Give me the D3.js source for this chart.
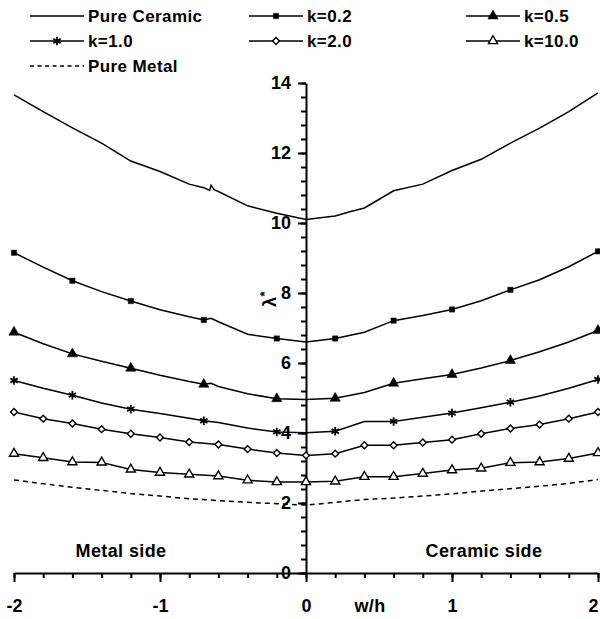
<!DOCTYPE html>
<meta charset="utf-8">
<style>
 body { margin: 0; background: #fff; }
 svg { font-family: "Liberation Sans", Arial, sans-serif; font-weight: bold; background: #fff; }
 .line { fill: none; stroke: #000; stroke-width: 1.5px; }
 .axis path, .axis line { stroke: #000; stroke-width: 2px; }
 .axis text { font-size: 18px; font-weight: bold; fill: #000; font-family: "Liberation Sans", Arial, sans-serif; }
 .label { font-size: 18px; letter-spacing: 0.4px; }
 .legend text { font-size: 17px; letter-spacing: 0.4px; }
</style>
<body>
<svg width="600" height="619"></svg>
</body>
<script src="https://d3js.org/d3.v7.min.js"></script>
<script>

// curves: [w/h, lambda*]
var pureCeramic = [[-2,13.66],[-1.8,13.18],[-1.6,12.72],[-1.4,12.28],[-1.2,11.77],[-1.0,11.47],[-0.8,11.11],
    [-0.7,11.01],[-0.66,10.93],[-0.65,11.08],[-0.63,10.95],[-0.6,10.9],[-0.4,10.49],[-0.2,10.28],[0,10.1],
    [0.2,10.2],[0.3,10.32],[0.4,10.43],[0.6,10.92],[0.8,11.11],[1.0,11.5],[1.2,11.82],[1.4,12.28],[1.6,12.71],
    [1.8,13.18],[2.0,13.72]];
var k02 = [[-2,9.15],[-1.8,8.74],[-1.6,8.35],[-1.4,8.04],[-1.2,7.77],[-1.0,7.52],[-0.8,7.32],[-0.7,7.23],
    [-0.65,7.28],[-0.6,7.18],[-0.4,6.82],[-0.2,6.70],[0,6.60],[0.2,6.70],[0.4,6.88],[0.6,7.21],[0.8,7.36],
    [1.0,7.53],[1.2,7.78],[1.4,8.09],[1.6,8.38],[1.8,8.75],[2.0,9.19]];
var k05 = [[-2,6.88],[-1.8,6.55],[-1.6,6.26],[-1.4,6.05],[-1.2,5.85],[-1.0,5.65],[-0.8,5.47],[-0.7,5.39],
    [-0.65,5.42],[-0.6,5.33],[-0.4,5.12],[-0.2,4.98],[0,4.96],[0.2,4.99],[0.4,5.16],[0.6,5.42],[0.8,5.55],
    [1.0,5.67],[1.2,5.86],[1.4,6.07],[1.6,6.32],[1.8,6.60],[2.0,6.93]];
var k10 = [[-2,5.50],[-1.8,5.28],[-1.6,5.08],[-1.4,4.86],[-1.2,4.68],[-1.0,4.56],[-0.8,4.42],[-0.7,4.35],
    [-0.6,4.30],[-0.4,4.14],[-0.2,4.03],[0,4.01],[0.2,4.05],[0.4,4.33],[0.6,4.33],[0.8,4.45],[1.0,4.57],
    [1.2,4.72],[1.4,4.88],[1.6,5.06],[1.8,5.28],[2.0,5.53]];
var k20 = [[-2,4.60],[-1.8,4.41],[-1.6,4.27],[-1.4,4.11],[-1.2,3.98],[-1.0,3.87],[-0.8,3.74],[-0.6,3.67],
    [-0.4,3.54],[-0.2,3.43],[0,3.36],[0.2,3.41],[0.4,3.65],[0.6,3.65],[0.8,3.73],[1.0,3.81],[1.2,3.98],
    [1.4,4.13],[1.6,4.24],[1.8,4.41],[2.0,4.60]];
var k100 = [[-2,3.41],[-1.8,3.29],[-1.6,3.17],[-1.4,3.16],[-1.2,2.96],[-1.0,2.87],[-0.8,2.82],[-0.6,2.77],
    [-0.4,2.65],[-0.2,2.60],[0,2.60],[0.2,2.62],[0.4,2.75],[0.6,2.75],[0.8,2.84],[1.0,2.94],[1.2,2.99],
    [1.4,3.15],[1.6,3.17],[1.8,3.27],[2.0,3.43]];
var pureMetal = [[-2,2.66],[-1.8,2.55],[-1.6,2.45],[-1.4,2.36],[-1.2,2.27],[-1.0,2.20],[-0.8,2.12],[-0.6,2.07],
    [-0.4,2.02],[-0.2,1.98],[0,1.94],[0.2,2.02],[0.4,2.10],[0.6,2.14],[0.8,2.20],[1.0,2.26],[1.2,2.34],
    [1.4,2.41],[1.6,2.48],[1.8,2.56],[2.0,2.67]];

// where the markers sit
var sparseMarks = [-2,-1.6,-1.2,-0.7,-0.2,0.2,0.6,1.0,1.4,2.0];
var denseMarks = [-2,-1.8,-1.6,-1.4,-1.2,-1.0,-0.8,-0.6,-0.4,-0.2,0,0.2,0.4,0.6,0.8,1.0,1.2,1.4,1.6,1.8,2.0];

var seriesNames = ["Pure Ceramic","k=0.2","k=0.5","k=1.0","k=2.0","k=10.0","Pure Metal"];
var xTicks = [-2,-1,0,1,2];
var yTicks = [0,2,4,6,8,10,12,14];

var sym = {
    square: {type: d3.symbolSquare, size: 28, fill: "#000", rot: 0},
    tri: {type: d3.symbolTriangle, size: 46, fill: "#000", rot: 0},
    star: {type: d3.symbolAsterisk, size: 50, fill: "none", rot: 0},
    diamond: {type: d3.symbolSquare, size: 24, fill: "#fff", rot: 45},
    otri: {type: d3.symbolTriangle, size: 36, fill: "#fff", rot: 0}
};

var series = [
    {name: seriesNames[0], data: pureCeramic, marks: [], sym: null, dash: null},
    {name: seriesNames[1], data: k02, marks: sparseMarks, sym: sym.square},
    {name: seriesNames[2], data: k05, marks: sparseMarks, sym: sym.tri},
    {name: seriesNames[3], data: k10, marks: sparseMarks, sym: sym.star},
    {name: seriesNames[4], data: k20, marks: denseMarks, sym: sym.diamond},
    {name: seriesNames[5], data: k100, marks: denseMarks, sym: sym.otri},
    {name: seriesNames[6], data: pureMetal, marks: [], sym: null, dash: "5,4"}
];

var svg = d3.select("svg");

var x = d3.scaleLinear().domain([-2, 2]).range([14, 598]);
var y = d3.scaleLinear().domain([0, 14]).range([573, 83]);

// x axis
var xMinor = d3.range(-2, 2.001, 0.2).map(function(d){ return Math.round(d*10)/10; });
svg.append("g").attr("class", "axis")
    .attr("transform", "translate(0,573)")
    .call(d3.axisBottom(x).tickValues(xMinor).tickSize(5).tickSizeOuter(0).tickFormat(""))
    .select(".domain").remove();
var xAxisG = svg.append("g").attr("class", "axis")
    .attr("transform", "translate(0,573)")
    .call(d3.axisBottom(x).tickValues(xTicks).tickSize(9).tickSizeOuter(0).tickPadding(17)
        .tickFormat(function(d){ return String(d); }));
// keep the end label inside the picture
xAxisG.selectAll(".tick text").filter(function(d){ return d == 2; }).attr("dx", -5);

// y axis
var yMinor = d3.range(0, 14.001, 0.4).map(function(d){ return Math.round(d*10)/10; });
svg.append("g").attr("class", "axis")
    .attr("transform", "translate(306,0)")
    .call(d3.axisLeft(y).tickValues(yMinor).tickSize(5).tickSizeOuter(0).tickFormat(""))
    .select(".domain").remove();
svg.append("g").attr("class", "axis")
    .attr("transform", "translate(306,0)")
    .call(d3.axisLeft(y).tickValues(yTicks).tickSize(8).tickSizeOuter(0).tickPadding(7));

// axis titles and side labels
var lam = svg.append("text").attr("class", "label")
    .attr("transform", "translate(276,299) rotate(-90)")
    .attr("text-anchor", "middle");
lam.append("tspan").text("λ");
lam.append("tspan").attr("baseline-shift", "super").attr("font-size", "13px").text("*");

svg.append("text").attr("class", "label").attr("x", 370).attr("y", 612)
    .attr("text-anchor", "middle").text("w/h");
svg.append("text").attr("class", "label").attr("x", 121).attr("y", 557)
    .attr("text-anchor", "middle").text("Metal side");
svg.append("text").attr("class", "label").attr("x", 484).attr("y", 557)
    .attr("text-anchor", "middle").text("Ceramic side");

// curves
var line = d3.line().x(function(d){ return x(d[0]); }).y(function(d){ return y(d[1]); });

function drawSymbol(sel, s){
    sel.attr("d", d3.symbol().type(s.type).size(s.size)())
        .attr("fill", s.fill)
        .attr("stroke", "#000")
        .attr("stroke-width", s.fill == "#000" ? 0.5 : (s.fill == "none" ? 1.8 : 1.4));
}

series.forEach(function(s){
    svg.append("path").attr("class", "line")
        .attr("d", line(s.data))
        .attr("stroke-dasharray", s.dash);

    if(s.sym){
        var pts = s.marks.map(function(m){
            return s.data.find(function(d){ return Math.abs(d[0] - m) < 1e-6; });
        });
        svg.selectAll(null).data(pts).enter().append("path")
            .attr("transform", function(d){
                return "translate(" + x(d[0]) + "," + y(d[1]) + ") rotate(" + s.sym.rot + ")";
            })
            .call(drawSymbol, s.sym);
    }
});

// legend
var colX = [30, 249, 466];
var rowY = [16, 41, 66];
var lg = svg.append("g").attr("class", "legend");
series.forEach(function(s, i){
    var cx = colX[i % 3], cy = rowY[Math.floor(i / 3)];
    lg.append("line").attr("x1", cx).attr("x2", cx + 54).attr("y1", cy).attr("y2", cy)
        .attr("stroke", "#000").attr("stroke-width", 1.5)
        .attr("stroke-dasharray", s.dash ? "4,3.5" : null);
    if(s.sym){
        lg.append("path")
            .attr("transform", "translate(" + (cx + 27) + "," + cy + ") rotate(" + s.sym.rot + ")")
            .call(drawSymbol, s.sym);
    }
    lg.append("text").attr("x", cx + 58).attr("y", cy).attr("dy", "0.36em").text(s.name);
});

</script>
</html>
